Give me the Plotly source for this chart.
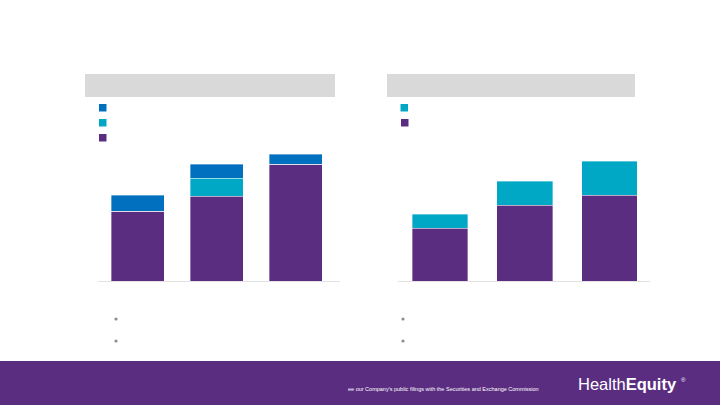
import plotly.graph_objects as go

# ---- data ----
left_categories = ["Year 1", "Year 2", "Year 3"]
left_purple = [70, 85, 117]
left_teal = [0, 18, 0]
left_blue = [16, 14, 10]

right_categories = ["Year 1", "Year 2", "Year 3"]
right_purple = [53, 76, 86]
right_teal = [14, 24, 34]

PURPLE = "#5A2D81"
TEAL = "#00A8C6"
BLUE = "#0070BF"
GRAY_HDR = "#D9D9D9"

W, H = 720, 405
def px(x): return x / W
def py(y): return 1 - y / H

edge = dict(color="rgba(255,255,255,0.45)", width=0.8)

fig = go.Figure()
# left chart
fig.add_trace(go.Bar(x=left_categories, y=left_purple, marker=dict(color=PURPLE, line=edge), width=0.67, xaxis="x", yaxis="y"))
fig.add_trace(go.Bar(x=left_categories, y=left_teal, marker=dict(color=TEAL, line=edge), width=0.67, xaxis="x", yaxis="y"))
fig.add_trace(go.Bar(x=left_categories, y=left_blue, marker=dict(color=BLUE, line=edge), width=0.67, xaxis="x", yaxis="y"))
# right chart
fig.add_trace(go.Bar(x=right_categories, y=right_purple, marker=dict(color=PURPLE, line=edge), width=0.66, xaxis="x2", yaxis="y2"))
fig.add_trace(go.Bar(x=right_categories, y=right_teal, marker=dict(color=TEAL, line=edge), width=0.66, xaxis="x2", yaxis="y2"))

ydom = [py(281), py(150)]
fig.update_layout(
    width=W, height=H, barmode="stack", showlegend=False,
    margin=dict(l=0, r=0, t=0, b=0),
    paper_bgcolor="white", plot_bgcolor="white",
    xaxis=dict(domain=[px(98), px(340)], range=[-0.5, 2.56], showline=True, linecolor="#E3E3E3",
               linewidth=1, showticklabels=False, ticks="", showgrid=False, zeroline=False),
    yaxis=dict(domain=ydom, range=[0, 131], visible=False, showgrid=False, zeroline=False),
    xaxis2=dict(domain=[px(398), px(650)], range=[-0.496, 2.478], showline=True, linecolor="#E3E3E3",
                linewidth=1, showticklabels=False, ticks="", showgrid=False, zeroline=False, anchor="y2"),
    yaxis2=dict(domain=ydom, range=[0, 131], visible=False, showgrid=False, zeroline=False, anchor="x2"),
)

shapes = []
def rect(x0, y0, x1, y1, color):
    shapes.append(dict(type="rect", xref="paper", yref="paper", x0=px(x0), x1=px(x1), y0=py(y1), y1=py(y0),
                       fillcolor=color, line=dict(width=0), layer="below"))
# header bars
rect(85, 74, 335, 97, GRAY_HDR)
rect(387, 74, 635, 97, GRAY_HDR)
# legend squares
rect(99, 104, 106.5, 111.5, BLUE)
rect(99, 119, 106.5, 126.5, TEAL)
rect(99, 134, 106.5, 141.5, PURPLE)
rect(400.5, 104, 408, 111.5, TEAL)
rect(401, 119, 408.5, 126.5, PURPLE)
# footer band
rect(0, 361, 720, 405, PURPLE)
# bullets
for bx in (116, 403):
    for by in (319, 341):
        shapes.append(dict(type="circle", xref="paper", yref="paper", x0=px(bx - 1.6), x1=px(bx + 1.6),
                           y0=py(by + 1.6), y1=py(by - 1.6), fillcolor="#8C8C8C", line=dict(width=0)))
fig.update_layout(shapes=shapes)

fig.add_annotation(x=px(541), y=py(389), xref="paper", yref="paper", xanchor="right", yanchor="middle",
                   text="ee our Company's public filings with the Securities and Exchange Commission",
                   showarrow=False, font=dict(family="Arial, Liberation Sans", size=5.5, color="white"))
fig.add_annotation(x=px(576), y=py(384), xref="paper", yref="paper", xanchor="left", yanchor="middle",
                   text="Health<b>Equity</b>",
                   showarrow=False, font=dict(family="Arial, Liberation Sans", size=16.5, color="white"))
fig.add_annotation(x=px(679), y=py(380), xref="paper", yref="paper", xanchor="left", yanchor="middle",
                   text="®", showarrow=False, font=dict(family="Arial, Liberation Sans", size=6, color="white"))

fig.write_html("out.html")
